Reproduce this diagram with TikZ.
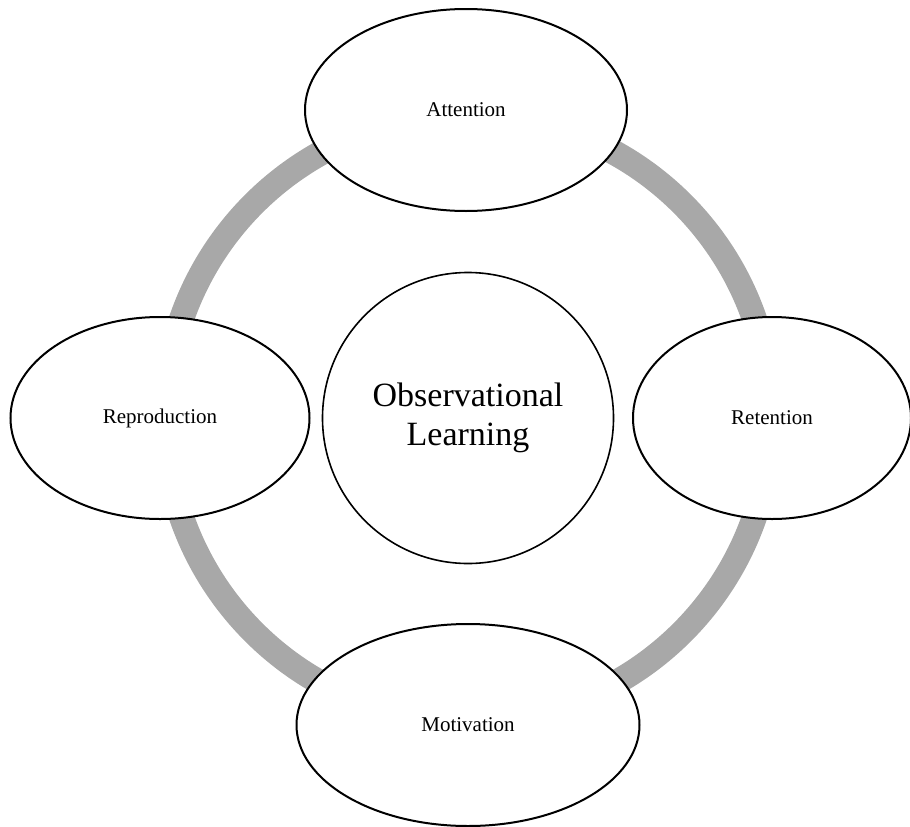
\documentclass[tikz,border=0pt]{standalone}
\usepackage{fontspec}
\setmainfont{Liberation Serif}
\usetikzlibrary{shapes.geometric}
\definecolor{ringgray}{RGB}{168,168,168}

\begin{document}
\begin{tikzpicture}[x=1pt, y=-1pt,
    stage/.style={draw, ellipse, line width=2pt, fill=white, minimum height=202pt, inner sep=0pt, font=\fontsize{21}{25}\selectfont},
    cycle/.style={draw=ringgray, line width=25pt}]
\useasboundingbox (0,0) rectangle (910,827);

% Center of the cycle
\node[draw, circle, line width=1.6pt, fill=white, minimum size=291pt, align=center, font=\fontsize{34}{39}\selectfont] (Observational) at (468,418) {
    Observational\\Learning
};

% Gray ring behind the four stages
\draw[cycle] (Observational.center) circle (303);

% Stages
\node[stage, minimum width=322pt] (Attention) at (466,110) {Attention};
\node[stage, minimum width=278pt] (Retention) at (772,418) {Retention};
\node[stage, minimum width=343pt] (Motivation) at (468,725) {Motivation};
\node[stage, minimum width=299pt] (Reproduction) at (160,418) {Reproduction};
\end{tikzpicture}
\end{document}
